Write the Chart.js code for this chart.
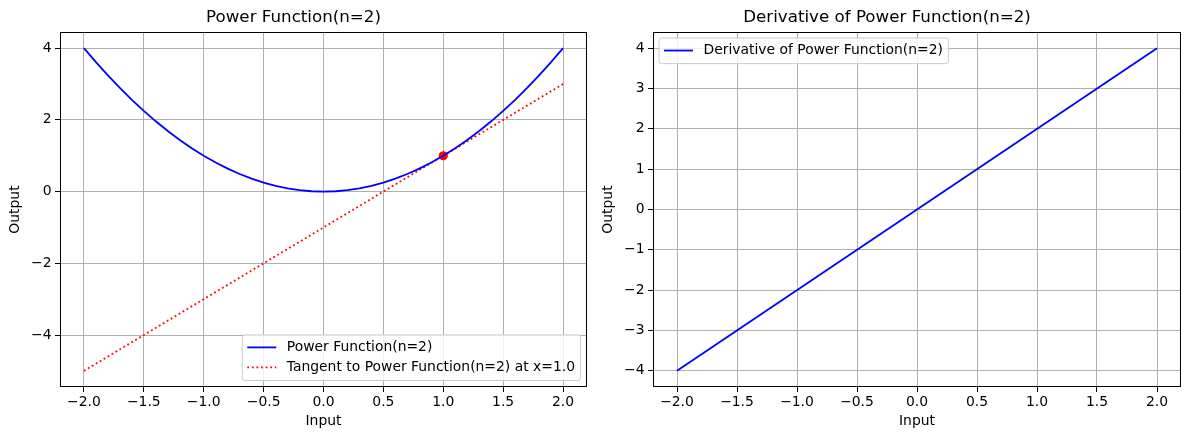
<!DOCTYPE html>
<html>
<head>
<meta charset="utf-8">
<script src="https://cdn.jsdelivr.net/npm/chart.js@4/dist/chart.umd.min.js"></script>
<style>
  html, body { margin: 0; padding: 0; background: #ffffff; }
  body { width: 1189px; height: 440px; position: relative; overflow: hidden; }
  canvas { position: absolute; top: 0; }
  #c1 { left: 0px; }
  #c2 { left: 593px; }
</style>
</head>
<body>
<canvas id="c1" width="594" height="440"></canvas>
<canvas id="c2" width="596" height="440"></canvas>
<script>
// ---------------- data ----------------
const powerX = [-2.0,-1.9,-1.8,-1.7,-1.6,-1.5,-1.4,-1.3,-1.2,-1.1,-1.0,-0.9,-0.8,-0.7,-0.6,-0.5,-0.4,-0.3,-0.2,-0.1,0.0,
                0.1,0.2,0.3,0.4,0.5,0.6,0.7,0.8,0.9,1.0,1.1,1.2,1.3,1.4,1.5,1.6,1.7,1.8,1.9,2.0];
const powerY = [4.00,3.61,3.24,2.89,2.56,2.25,1.96,1.69,1.44,1.21,1.00,0.81,0.64,0.49,0.36,0.25,0.16,0.09,0.04,0.01,0.00,
                0.01,0.04,0.09,0.16,0.25,0.36,0.49,0.64,0.81,1.00,1.21,1.44,1.69,1.96,2.25,2.56,2.89,3.24,3.61,4.00];
const tangentX = [-2.0, 2.0];
const tangentY = [-5.0, 3.0];
const pointX = [1.0];
const pointY = [1.0];
const derivX = [-2.0, 2.0];
const derivY = [-4.0, 4.0];

const xTicks = [-2.0,-1.5,-1.0,-0.5,0.0,0.5,1.0,1.5,2.0];
const xTickLabels = ['\u22122.0','\u22121.5','\u22121.0','\u22120.5','0.0','0.5','1.0','1.5','2.0'];
const y1Ticks = [-4,-2,0,2,4];
const y1TickLabels = ['\u22124','\u22122','0','2','4'];
const y2Ticks = [-4,-3,-2,-1,0,1,2,3,4];
const y2TickLabels = ['\u22124','\u22123','\u22122','\u22121','0','1','2','3','4'];

const title1 = 'Power Function(n=2)';
const title2 = 'Derivative of Power Function(n=2)';
const label1 = 'Power Function(n=2)';
const label2 = 'Tangent to Power Function(n=2) at x=1.0';
const label3 = 'Derivative of Power Function(n=2)';

// ---------------- style ----------------
const FONT = '"DejaVu Sans", "Liberation Sans", sans-serif';
const FS = 13.9;
const TFS = 16.7;
const LW = 1.8;

const toXY = (xs, ys) => xs.map((x, i) => ({x: x, y: ys[i]}));

// spines (all four) drawn after datasets
const spinePlugin = {
  id: 'spines',
  afterDatasetsDraw(chart) {
    const {ctx, chartArea: a} = chart;
    ctx.save();
    ctx.strokeStyle = '#000000';
    ctx.lineWidth = 1;
    ctx.strokeRect(Math.round(a.left) + 0.5, Math.round(a.top) + 0.5,
                   Math.round(a.right - a.left) - 1, Math.round(a.bottom - a.top) - 1);
    ctx.restore();
  }
};

function roundRect(ctx, x, y, w, h, r) {
  ctx.beginPath();
  ctx.moveTo(x + r, y);
  ctx.lineTo(x + w - r, y);
  ctx.arcTo(x + w, y, x + w, y + r, r);
  ctx.lineTo(x + w, y + h - r);
  ctx.arcTo(x + w, y + h, x + w - r, y + h, r);
  ctx.lineTo(x + r, y + h);
  ctx.arcTo(x, y + h, x, y + h - r, r);
  ctx.lineTo(x, y + r);
  ctx.arcTo(x, y, x + r, y, r);
  ctx.closePath();
}

// matplotlib-like legend inside axes
const legendPlugin = {
  id: 'mplLegend',
  afterDraw(chart, args, opts) {
    const items = opts.items;
    if (!items) return;
    const {ctx, chartArea: a} = chart;
    ctx.save();
    ctx.font = FS + 'px ' + FONT;
    const textW = Math.max(...items.map(it => ctx.measureText(it.label).width));
    const w = 44.5 + textW + 5.5;
    const h = 25.6 + 20 * (items.length - 1);
    let bx, by;
    if (opts.loc === 'lower right') { bx = a.right - 6.5 - w; by = a.bottom - 6.5 - h; }
    else { bx = a.left + 6; by = a.top + 6; }
    roundRect(ctx, bx, by, w, h, 2.5);
    ctx.fillStyle = 'rgba(255,255,255,0.8)';
    ctx.fill();
    ctx.strokeStyle = '#cccccc';
    ctx.lineWidth = 1;
    ctx.stroke();
    items.forEach((it, i) => {
      const cy = by + 12.5 + 20 * i;
      ctx.beginPath();
      ctx.strokeStyle = it.color;
      ctx.lineWidth = LW;
      ctx.lineCap = 'butt';
      ctx.setLineDash(it.dash || []);
      ctx.moveTo(bx + 5, cy);
      ctx.lineTo(bx + 34, cy);
      ctx.stroke();
      ctx.setLineDash([]);
      ctx.fillStyle = '#000000';
      ctx.textAlign = 'left';
      ctx.textBaseline = 'middle';
      ctx.fillText(it.label, bx + 44.5, cy);
    });
    ctx.restore();
  }
};

function xScale() {
  return {
    type: 'linear',
    min: -2.2, max: 2.2,
    afterBuildTicks: s => { s.ticks = xTicks.map(v => ({value: v})); },
    afterFit: s => { s.height = 53; s.paddingLeft = 0; s.paddingRight = 0; s.paddingTop = 0; s.paddingBottom = 0; },
    grid: { color: '#b0b0b0', lineWidth: 1, drawTicks: true, tickLength: 5, tickColor: '#000000', tickWidth: 1 },
    border: { display: false },
    ticks: {
      autoSkip: false, maxRotation: 0, minRotation: 0, padding: 1.8, color: '#000000',
      font: { family: FONT, size: FS },
      callback: (v, i) => xTickLabels[i]
    },
    title: { display: true, text: 'Input', color: '#000000', font: { family: FONT, size: FS },
             padding: { top: 0, bottom: 10 } }
  };
}

function yScale(min, max, ticks, labels) {
  return {
    type: 'linear',
    min: min, max: max,
    afterBuildTicks: s => { s.ticks = ticks.map(v => ({value: v})); },
    afterFit: s => { s.width = 60; s.paddingLeft = 0; s.paddingRight = 0; s.paddingTop = 0; s.paddingBottom = 0; },
    grid: { color: '#b0b0b0', lineWidth: 1, drawTicks: true, tickLength: 5, tickColor: '#000000', tickWidth: 1 },
    border: { display: false },
    ticks: {
      autoSkip: false, padding: 3.5, color: '#000000',
      font: { family: FONT, size: FS },
      callback: (v, i) => labels[i]
    },
    title: { display: true, text: 'Output', color: '#000000', font: { family: FONT, size: FS },
             padding: { top: 6.7, bottom: 0 } }
  };
}

function commonPlugins(title, legendItems, loc) {
  return {
    legend: { display: false },
    tooltip: { enabled: false },
    title: { display: true, text: title, color: '#000000', font: { family: FONT, size: TFS, weight: 'normal' },
             padding: { top: 7.3, bottom: 4.7 } },
    mplLegend: { items: legendItems, loc: loc }
  };
}

new Chart(document.getElementById('c1'), {
  type: 'line',
  data: {
    datasets: [
      { label: label1, data: toXY(powerX, powerY), borderColor: '#0000ff', borderWidth: LW,
        pointRadius: 0, tension: 0, fill: false },
      { label: label2, data: toXY(tangentX, tangentY), borderColor: '#ff0000', borderWidth: LW,
        borderDash: [1.8, 2.8], borderCapStyle: 'butt', pointRadius: 0, tension: 0, fill: false },
      { label: 'point', data: toXY(pointX, pointY), showLine: false, pointRadius: 4.6,
        pointBackgroundColor: '#ff0000', pointBorderColor: '#ff0000', pointBorderWidth: 0 }
    ]
  },
  options: {
    responsive: false, animation: false, devicePixelRatio: 1,
    layout: { padding: { left: 0, right: 7, top: 0, bottom: 0 } },
    scales: { x: xScale(), y: yScale(-5.45, 4.45, y1Ticks, y1TickLabels) },
    plugins: commonPlugins(title1, [
      { label: label1, color: '#0000ff' },
      { label: label2, color: '#ff0000', dash: [1.8, 2.8] }
    ], 'lower right')
  },
  plugins: [spinePlugin, legendPlugin]
});

new Chart(document.getElementById('c2'), {
  type: 'line',
  data: {
    datasets: [
      { label: label3, data: toXY(derivX, derivY), borderColor: '#0000ff', borderWidth: LW,
        pointRadius: 0, tension: 0, fill: false }
    ]
  },
  options: {
    responsive: false, animation: false, devicePixelRatio: 1,
    layout: { padding: { left: 0, right: 8, top: 0, bottom: 0 } },
    scales: { x: xScale(), y: yScale(-4.4, 4.4, y2Ticks, y2TickLabels) },
    plugins: commonPlugins(title2, [
      { label: label3, color: '#0000ff' }
    ], 'upper left')
  },
  plugins: [spinePlugin, legendPlugin]
});
</script>
</body>
</html>
